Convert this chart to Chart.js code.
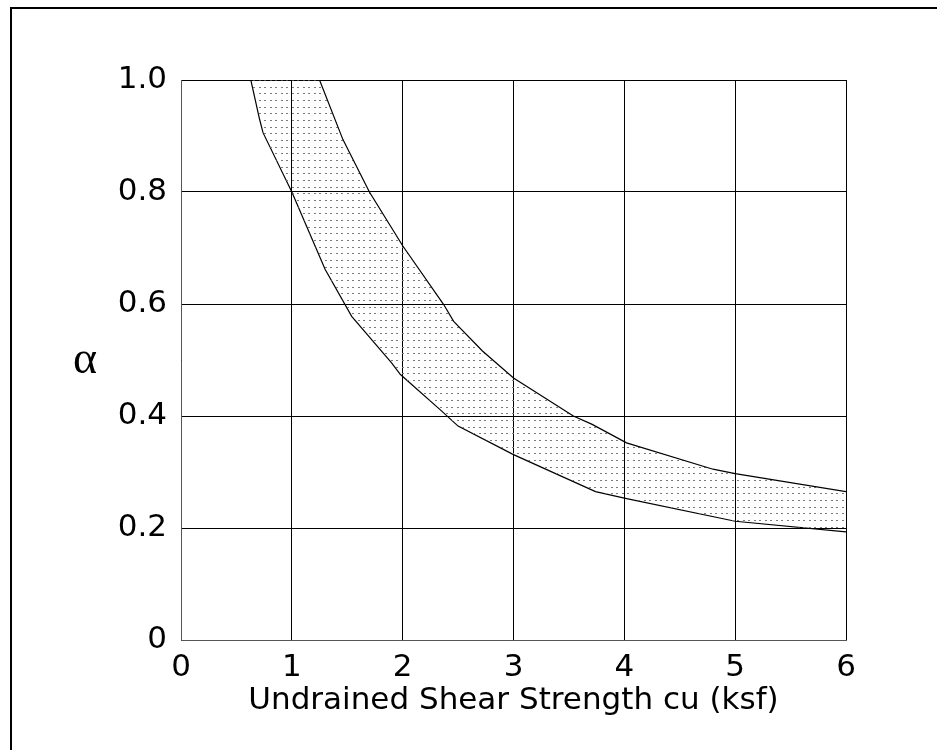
<!DOCTYPE html>
<html>
<head>
<meta charset="utf-8">
<script src="https://cdn.jsdelivr.net/npm/chart.js@4/dist/chart.umd.min.js"></script>
<style>
  html, body { margin: 0; padding: 0; background: #fff; }
  #c { display: block; }
</style>
</head>
<body>
<canvas id="c" width="937" height="750"></canvas>
<script>
// ---- Data ----
const xTicks = [0, 1, 2, 3, 4, 5, 6];
const yTickLabels = ['0', '0.2', '0.4', '0.6', '0.8', '1.0'];
const xTitle = 'Undrained Shear Strength cu (ksf)';
const yTitle = 'α';

// Upper boundary of the band (starts along the top edge at alpha = 1.0)
const upperX = [0.63, 1.25, 1.46, 1.55, 1.70, 2.00, 2.37, 2.46, 2.72, 3.00, 3.54, 3.71, 4.02, 4.80, 5.00, 6.00];
const upperY = [1.00, 1.00, 0.894, 0.859, 0.800, 0.704, 0.599, 0.569, 0.516, 0.468, 0.400, 0.385, 0.352, 0.305, 0.297, 0.265];

// Lower boundary of the band
const lowerX = [0.63, 0.71, 0.74, 1.00, 1.30, 1.54, 1.90, 1.98, 2.34, 2.50, 3.00, 3.74, 4.01, 5.00, 6.00];
const lowerY = [1.00, 0.929, 0.906, 0.800, 0.662, 0.578, 0.495, 0.474, 0.411, 0.382, 0.331, 0.265, 0.253, 0.212, 0.193];

const toPoints = (xs, ys) => xs.map((x, i) => ({ x: x, y: ys[i] }));

// ---- Dotted pattern for the band ----
const canvas = document.getElementById('c');
const ctx = canvas.getContext('2d');
const pat = document.createElement('canvas');
pat.width = 11; pat.height = 20;
const pctx = pat.getContext('2d');
pctx.fillStyle = '#7a7a7a';
[[0, 0], [6, 0], [0, 7], [6, 7], [0, 13], [6, 13]].forEach(function (p) { pctx.fillRect(p[0], p[1], 2, 1); });
const pattern = ctx.createPattern(pat, 'repeat');

const FONT = "'DejaVu Sans', Verdana, sans-serif";

const framePlugin = {
  id: 'frame',
  beforeDraw(chart) {
    const c = chart.ctx;
    c.save();
    c.fillStyle = '#fff';
    c.fillRect(0, 0, chart.width, chart.height);
    c.strokeStyle = '#000';
    c.lineWidth = 2;
    c.beginPath();
    c.moveTo(11, chart.height + 5);
    c.lineTo(11, 8);
    c.lineTo(chart.width + 5, 8);
    c.stroke();
    c.restore();
  },
  afterDraw(chart) {
    const c = chart.ctx;
    c.save();
    c.fillStyle = '#000';
    c.font = "46px 'Liberation Serif', 'DejaVu Serif', serif";
    c.textAlign = 'center';
    c.textBaseline = 'alphabetic';
    c.fillText(yTitle, 85, 373);
    c.restore();
  }
};

new Chart(canvas, {
  type: 'line',
  data: {
    datasets: [
      {
        label: 'upper',
        data: toPoints(upperX, upperY),
        borderColor: '#000',
        borderWidth: 1.2,
        pointRadius: 0,
        tension: 0,
        backgroundColor: pattern,
        fill: '+1'
      },
      {
        label: 'lower',
        data: toPoints(lowerX, lowerY),
        borderColor: '#000',
        borderWidth: 1.2,
        pointRadius: 0,
        tension: 0,
        fill: false
      }
    ]
  },
  options: {
    responsive: false,
    animation: false,
    events: [],
    layout: { padding: { left: 0, right: 91, top: 80, bottom: 0 } },
    plugins: { legend: { display: false }, tooltip: { enabled: false } },
    scales: {
      x: {
        type: 'linear',
        min: 0, max: 6,
        afterBuildTicks(scale) { scale.ticks = xTicks.map(v => ({ value: v })); },
        afterFit(scale) { scale.height = 110; },
        grid: { color: '#000', lineWidth: 1, drawTicks: false },
        border: { color: '#555', width: 1 },
        ticks: { color: '#000', padding: 9, font: { family: FONT, size: 31 }, maxRotation: 0 },
        title: { display: true, text: xTitle, color: '#000', font: { family: FONT, size: 31 }, padding: { top: 0, bottom: 30 } }
      },
      y: {
        type: 'linear',
        min: 0, max: 1,
        afterBuildTicks(scale) { scale.ticks = yTickLabels.map(t => ({ value: parseFloat(t) })); },
        afterFit(scale) { scale.width = 181; },
        grid: { color: '#000', lineWidth: 1, drawTicks: false },
        border: { color: '#555', width: 1 },
        ticks: {
          color: '#000', padding: 14, font: { family: FONT, size: 31 },
          callback: (v) => yTickLabels.find(t => Math.abs(parseFloat(t) - v) < 1e-9)
        }
      }
    }
  },
  plugins: [framePlugin]
});
</script>
</body>
</html>
